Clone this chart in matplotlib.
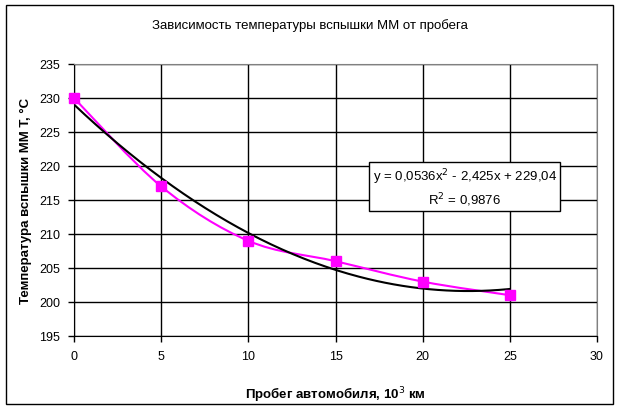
import matplotlib.pyplot as plt
import numpy as np
from matplotlib.path import Path
from matplotlib.patches import PathPatch, Rectangle

plt.rcParams['font.family'] = ['Liberation Sans', 'DejaVu Sans']

# данные
probeg = [0, 5, 10, 15, 20, 25]
temp = [230, 217, 209, 206, 203, 201]
# коэффициенты полиномиального тренда
a2, a1, a0 = 0.0536, -2.425, 229.04
xticks = [0, 5, 10, 15, 20, 25, 30]
yticks = [195, 200, 205, 210, 215, 220, 225, 230, 235]

fig = plt.figure(figsize=(6.19, 4.10), dpi=100)
fig.patches.append(Rectangle((6 / 619, 5 / 410), 607 / 619, 399 / 410, transform=fig.transFigure,
                             fill=False, edgecolor='black', linewidth=1))
ax = fig.add_axes([74 / 619, 73 / 410, 523 / 619, 272 / 410])

ax.set_xlim(0, 30)
ax.set_ylim(195, 235)
ax.set_xticks(xticks)
ax.set_yticks(yticks)
ax.grid(True, color='black', linewidth=1)
ax.set_axisbelow(True)
for s in ['top', 'right']:
    ax.spines[s].set_color('#808080')
for s in ['left', 'bottom']:
    ax.spines[s].set_color('black')
ax.tick_params(direction='out', length=4, width=1, labelsize=9, pad=6)

# сглаженная линия (кривые Безье, как в Excel)
x = np.array(probeg, dtype=float)
y = np.array(temp, dtype=float)
verts = [(x[0], y[0])]
codes = [Path.MOVETO]
n = len(x)
for i in range(n - 1):
    p0 = (x[max(i - 1, 0)], y[max(i - 1, 0)])
    p1 = (x[i], y[i])
    p2 = (x[i + 1], y[i + 1])
    p3 = (x[min(i + 2, n - 1)], y[min(i + 2, n - 1)])
    c1 = (p1[0] + (p2[0] - p0[0]) / 6, p1[1] + (p2[1] - p0[1]) / 6)
    c2 = (p2[0] - (p3[0] - p1[0]) / 6, p2[1] - (p3[1] - p1[1]) / 6)
    verts += [c1, c2, p2]
    codes += [Path.CURVE4] * 3
ax.add_patch(PathPatch(Path(verts, codes), facecolor='none', edgecolor='#FF00FF', linewidth=1.5, zorder=3))
ax.plot(probeg, temp, linestyle='none', marker='s', markersize=7.5, color='#FF00FF', zorder=5, clip_on=False)

# линия тренда
xt = np.linspace(0, 25, 200)
ax.plot(xt, a2 * xt ** 2 + a1 * xt + a0, color='black', linewidth=1.5, zorder=4)

ax.text(0.747, 0.547, 'y = 0,0536x$^2$ - 2,425x + 229,04\nR$^2$ = 0,9876', transform=ax.transAxes,
        ha='center', va='center', fontsize=9.5, linespacing=1.3,
        bbox=dict(boxstyle='square,pad=0.25', facecolor='white', edgecolor='black', linewidth=1), zorder=6)

fig.text(0.5, 0.937, 'Зависимость температуры вспышки ММ от пробега', ha='center', va='center', fontsize=9.5)
ax.set_xlabel('Пробег автомобиля, 10$^3$ км', fontsize=9.5, fontweight='bold', labelpad=16)
ax.set_ylabel('Температура вспышки ММ Т, °С', fontsize=9.5, fontweight='bold', labelpad=5)

fig.savefig('out.png', dpi=100)
